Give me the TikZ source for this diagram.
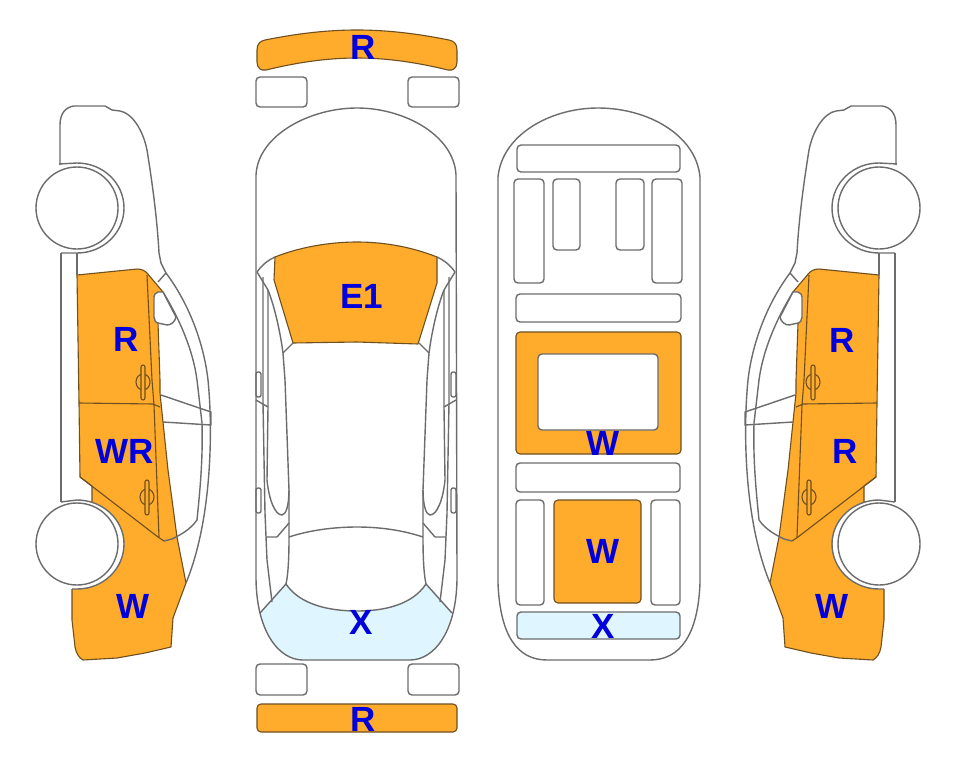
\documentclass[tikz,border=0pt]{standalone}
\usepackage{fontspec}
\setmainfont{Liberation Sans}
\definecolor{partorange}{HTML}{FFAB2B}
\definecolor{partblue}{HTML}{DFF5FF}
\definecolor{labelblue}{HTML}{0000DC}
\definecolor{linegray}{HTML}{6C6C6C}
\definecolor{edgebrown}{HTML}{6E5020}
\tikzset{
    outline/.style={draw=linegray,line width=1.4pt,line join=round},
    orangepart/.style={fill=partorange,draw=edgebrown,line width=1.1pt,line join=round},
    bluepart/.style={fill=partblue,draw=linegray,line width=1.4pt},
    partlabel/.style={text=labelblue,font=\bfseries\fontsize{35}{35}\selectfont,inner sep=0pt},
    panel/.style={outline,rounded corners=4pt},
    seam/.style={draw=edgebrown,line width=1.1pt,line join=round},
}
% one side view, front at the top
\newcommand{\sidecar}{
    \fill[partorange] (77,275) -- (137,269) .. controls (142,269) and (145,271) .. (147,273) -- (163,292) -- (158,292)
        .. controls (155,293) and (154,295) .. (154,297) -- (154,317) .. controls (154,320) and (156,323) .. (158,323)
        -- (160,380) -- (160,393) -- (163,422) -- (168,470) -- (177,537) -- (186,583) -- (173,618) -- (171,647)
        -- (145,653) -- (117,658) -- (83,660) .. controls (79,658) and (76,653) .. (75,647) -- (72,620) -- (72,589)
        -- (77,589) -- (92,500) -- (92,486) -- (80,477) -- (79,403) -- cycle;
    \draw[seam] (77,275) -- (137,269) .. controls (142,269) and (145,271) .. (147,273) -- (163,292);
    \draw[seam] (158,323) -- (160,380) -- (160,393) -- (163,422) -- (168,470) -- (177,537) -- (186,583) -- (173,618) -- (171,647)
        -- (145,653) -- (117,658) -- (83,660) .. controls (79,658) and (76,653) .. (75,647) -- (72,620) -- (72,589);
    \draw[seam] (92,503) -- (92,486) -- (80,477) -- (79,403) -- (77,275);
    \draw[seam] (80,477) -- (158,537) -- (164,541);
    \draw[seam] (147,275) -- (152,380) -- (154,405) -- (159,537);
    \draw[seam] (79,403) -- (153,404) -- (160,407);
    % door handles
    \draw[seam] (143,382) ellipse (7pt and 8pt);
    \draw[seam,fill=partorange,rounded corners=2pt] (141,365) rectangle (145,400);
    \draw[seam] (147,497) ellipse (7pt and 8pt);
    \draw[seam,fill=partorange,rounded corners=2pt] (145,480) rectangle (149,515);
    % body
    \draw[outline] (60,165) -- (60,125) .. controls (60,113) and (66,107) .. (74,106) -- (105,106) -- (112,110) -- (120,111)
        .. controls (132,113) and (143,130) .. (147,150) .. controls (151,175) and (157,215) .. (159,253) -- (161,263) -- (166,273)
        .. controls (190,305) and (204,345) .. (208,380) .. controls (213,430) and (212,520) .. (186,583);
    \draw[outline] (163,292) .. controls (180,320) and (193,350) .. (197,380) -- (202,423) .. controls (203,460) and (200,490) .. (197,520)
        .. controls (190,530) and (180,535) .. (172,539) -- (164,541);
    \draw[outline] (158,282) -- (166,273);
    \draw[outline,fill=white] (158,292) -- (163,292) -- (176,317) .. controls (175,322) and (171,325) .. (167,325) -- (158,323)
        .. controls (156,323) and (154,320) .. (154,317) -- (154,297) .. controls (154,295) and (155,293) .. (158,292) -- cycle;
    \draw[outline] (161,395) -- (211,412) -- (211,425) -- (163,422);
    \draw[outline] (61,253) -- (61,502);
    \draw[outline] (77,253) -- (77,275);
    % wheels and arches
    \fill[white] (77,163) .. controls (103,163) and (124,183) .. (124,208) .. controls (124,233) and (103,253) .. (77,253) -- cycle;
    \draw[outline] (59,164) -- (77,163) .. controls (103,163) and (124,183) .. (124,208) .. controls (124,233) and (103,253) .. (77,253) -- (61,253);
    \draw[outline,fill=white] (77,208) circle (41pt);
    \fill[white] (77,500) .. controls (103,500) and (124,520) .. (124,544) .. controls (124,569) and (103,589) .. (77,589) -- cycle;
    \draw[outline] (61,502) -- (77,500) .. controls (103,500) and (124,520) .. (124,544) .. controls (124,569) and (103,589) .. (77,589) -- (72,589);
    \draw[outline,fill=white] (77,544) circle (41pt);
}
% left half of the top view, without the parts that cross the middle
\newcommand{\topcarhalf}{
    \draw[outline] (257,272) .. controls (262,265) and (268,260) .. (275,257);
    \draw[outline] (257,272) -- (268,290) .. controls (274,305) and (280,330) .. (283,353) -- (285,380) -- (289,490) -- (289,537)
        .. controls (289,560) and (288,575) .. (286,584);
    \draw[outline] (283,353) -- (293,343);
    \draw[outline] (263,277) -- (263,403) -- (265,513) -- (267,560) -- (272,602);
    \draw[outline] (268,290) -- (268,407) -- (267,480) .. controls (269,500) and (275,515) .. (282,515) .. controls (286,515) and (289,505) .. (289,490);
    \draw[outline] (256,400) -- (268,407);
    \draw[outline] (266,537) -- (277,537) -- (289,523);
    \draw[outline,rounded corners=2pt] (256,372) rectangle (261,397);
    \draw[outline,rounded corners=2pt] (256,488) rectangle (261,513);
}
\begin{document}
\begin{tikzpicture}[x=1pt,y=-1pt]
    \useasboundingbox (0,0) rectangle (963,768);
    \fill[white] (0,0) rectangle (963,768);

    % side views
    \sidecar
    \begin{scope}[xshift=956pt,xscale=-1]
        \sidecar
    \end{scope}

    % top view
    \fill[partblue] (260,613) -- (286,584) .. controls (300,605) and (330,611) .. (357,611) .. controls (384,611) and (412,605) .. (426,584)
        -- (452,613) .. controls (442,645) and (430,660) .. (410,660) -- (303,660) .. controls (282,660) and (270,645) .. (260,613) -- cycle;
    \draw[outline] (256,175) .. controls (258,135) and (310,108) .. (357,108) .. controls (404,108) and (454,135) .. (456,175)
        -- (457,577) .. controls (457,630) and (435,660) .. (410,660) -- (303,660) .. controls (278,660) and (256,630) .. (256,577) -- cycle;
    \draw[outline] (260,613) -- (286,584) .. controls (300,605) and (330,611) .. (357,611) .. controls (384,611) and (412,605) .. (426,584) -- (452,613);
    \draw[orangepart] (275,257) .. controls (300,247) and (330,242) .. (357,242) .. controls (384,242) and (412,247) .. (437,257)
        -- (437,283) -- (418,344) -- (357,342) -- (293,343) -- (274,280) -- cycle;
    \draw[outline] (289,537) .. controls (310,530) and (335,527) .. (357,527) .. controls (379,527) and (402,530) .. (423,537);
    \topcarhalf
    \begin{scope}[xshift=712pt,xscale=-1]
        \topcarhalf
    \end{scope}

    % bumpers and lamps
    \draw[orangepart] (257,50) .. controls (257,44) and (260,41) .. (265,40) .. controls (295,34) and (325,30) .. (357,30)
        .. controls (389,30) and (419,34) .. (449,40) .. controls (454,41) and (457,44) .. (457,50) -- (457,62)
        .. controls (457,68) and (453,71) .. (448,70) .. controls (419,63) and (389,58) .. (357,58)
        .. controls (325,58) and (295,63) .. (266,70) .. controls (261,71) and (257,68) .. (257,62) -- cycle;
    \draw[orangepart,rounded corners=4pt] (257,704) rectangle (457,732);
    \foreach \px in {256,408} {
        \draw[panel] (\px,77) rectangle (\px+51,107);
        \draw[panel] (\px,664) rectangle (\px+51,695);
    }

    % underbody
    \draw[outline] (498,177) .. controls (502,135) and (550,108) .. (598,108) .. controls (648,108) and (696,135) .. (700,177)
        -- (700,583) .. controls (698,635) and (680,660) .. (650,660) -- (547,660) .. controls (517,660) and (500,635) .. (498,583) -- cycle;
    \foreach \xa/\ya/\xb/\yb in {517/145/680/172,514/179/544/283,553/179/580/250,616/179/644/250,652/179/682/283,
        516/294/681/322,516/463/680/492,516/500/544/605,651/500/680/605} {
        \draw[panel] (\xa,\ya) rectangle (\xb,\yb);
    }
    \draw[orangepart,rounded corners=4pt] (516,332) rectangle (681,454);
    \draw[outline,fill=white,rounded corners=4pt] (538,354) rectangle (658,430);
    \draw[orangepart,rounded corners=4pt] (554,500) rectangle (641,603);
    \draw[bluepart,rounded corners=4pt] (517,612) rectangle (680,639);

    % labels
    \node[partlabel] (bumperFront) at (363,47) {R};
    \node[partlabel] (roofPanel) at (362,296) {E1};
    \node[partlabel] (tailPanel) at (361,622) {X};
    \node[partlabel] (bumperRear) at (363,719) {R};
    \node[partlabel] (leftFrontDoor) at (126,339) {R};
    \node[partlabel] (leftRearDoor) at (125,451) {WR};
    \node[partlabel] (leftQuarter) at (133,606) {W};
    \node[partlabel] (rightFrontDoor) at (842,340) {R};
    \node[partlabel] (rightRearDoor) at (845,451) {R};
    \node[partlabel] (rightQuarter) at (832,606) {W};
    \node[partlabel] (floorFrame) at (603,443) {W};
    \node[partlabel] (floorRear) at (603,551) {W};
    \node[partlabel] (floorTail) at (603,626) {X};
\end{tikzpicture}
\end{document}
